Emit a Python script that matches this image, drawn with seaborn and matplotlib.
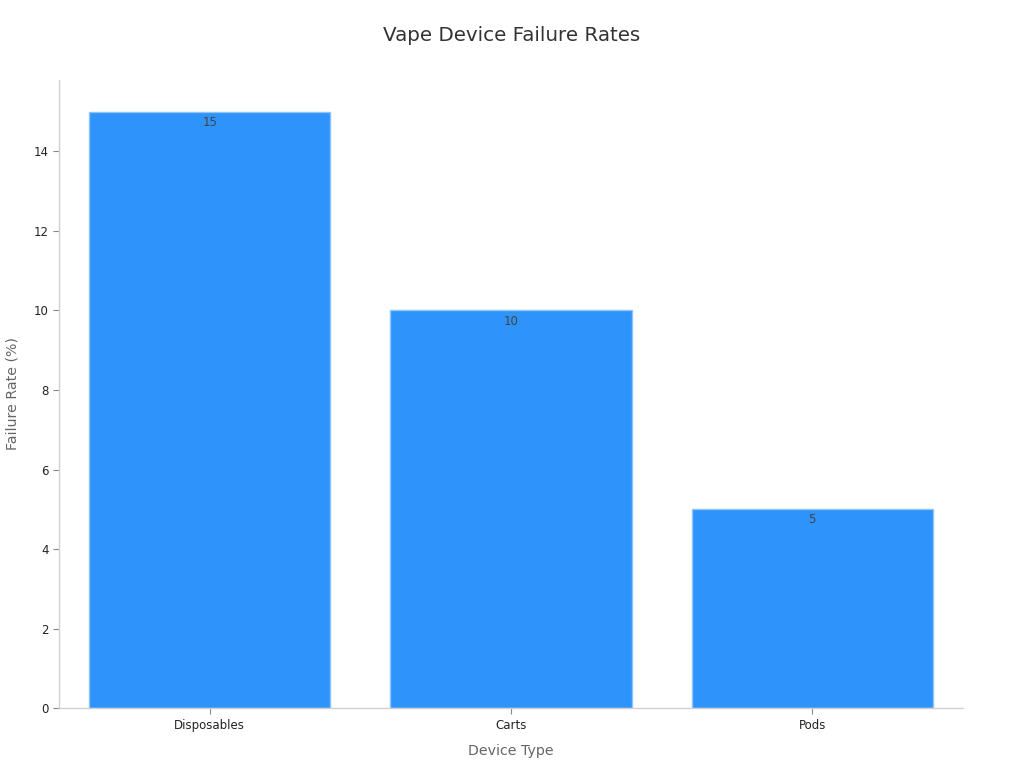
import matplotlib
matplotlib.use("Agg")
import matplotlib.pyplot as plt
import seaborn as sns
import pandas as pd

# dados do gráfico
dispositivos = ["Disposables", "Carts", "Pods"]
taxa_falha = [15, 10, 5]

df = pd.DataFrame({"Device Type": dispositivos, "Failure Rate (%)": taxa_falha})

sns.set_style("white")
plt.rcParams["font.family"] = ["DejaVu Sans"]

fig = plt.figure(figsize=(10.24, 7.68), dpi=100)
ax = fig.add_axes([0.0576, 0.078, 0.8828, 0.818])

sns.barplot(data=df, x="Device Type", y="Failure Rate (%)", color="#2E93FA",
            saturation=1, width=0.8, edgecolor="#8cc4fb", linewidth=1, ax=ax)

# rótulos dentro do topo das barras
for p, v in zip(ax.patches, taxa_falha):
    ax.annotate(f"{v}", (p.get_x() + p.get_width() / 2, v), xytext=(0, -3),
                textcoords="offset points", ha="center", va="top",
                fontsize=8.5, color="#444444")

ax.set_xlim(-0.5, 2.5)
ax.set_ylim(0, 15.8)
ax.set_yticks([0, 2, 4, 6, 8, 10, 12, 14])

for s in ["top", "right"]:
    ax.spines[s].set_visible(False)
for s in ["left", "bottom"]:
    ax.spines[s].set_color("#d0d0d0")
    ax.spines[s].set_linewidth(1)

ax.tick_params(axis="both", which="both", length=4, width=0.8, color="#888888",
               labelsize=8.5, labelcolor="#222222", left=True, bottom=True)
ax.set_xlabel("Device Type", fontsize=10.2, color="#666666", labelpad=9)
ax.set_ylabel("Failure Rate (%)", fontsize=10.2, color="#666666", labelpad=10)

fig.suptitle("Vape Device Failure Rates", fontsize=14.3, color="#333333", y=0.966)

fig.savefig("out.png", dpi=100)
